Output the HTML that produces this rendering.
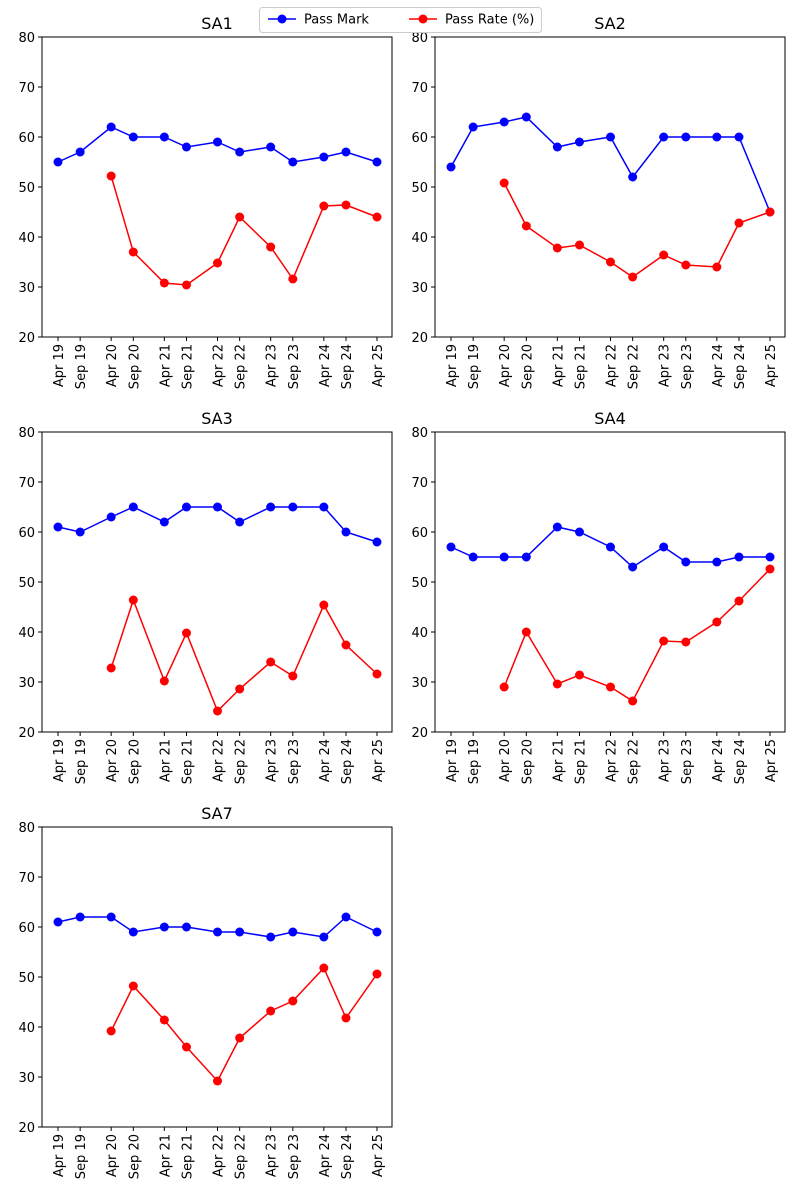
<!DOCTYPE html>
<html><head><meta charset="utf-8">
<style>
body{margin:0;background:#fff;}
svg{display:block;font-family:"DejaVu Sans","Liberation Sans",sans-serif;}
</style></head>
<body>
<svg id="chart" width="800" height="1200" viewBox="0 0 800 1200"></svg>
<script>
const categories = ["Apr 19","Sep 19","Apr 20","Sep 20","Apr 21","Sep 21","Apr 22","Sep 22","Apr 23","Sep 23","Apr 24","Sep 24","Apr 25"];
const monthOffsets = [0,5,12,17,24,29,36,41,48,53,60,65,72];
const yTicks = [20,30,40,50,60,70,80];
const panelTitles = ["SA1","SA2","SA3","SA4","SA7"];
const passMarkSA1 = [55,57,62,60,60,58,59,57,58,55,56,57,55];
const passRateSA1 = [null,null,52.2,37,30.8,30.4,34.8,44,38,31.6,46.2,46.4,44];
const passMarkSA2 = [54,62,63,64,58,59,60,52,60,60,60,60,45];
const passRateSA2 = [null,null,50.8,42.2,37.8,38.4,35,32,36.4,34.4,34,42.8,45];
const passMarkSA3 = [61,60,63,65,62,65,65,62,65,65,65,60,58];
const passRateSA3 = [null,null,32.8,46.4,30.2,39.8,24.2,28.6,34,31.2,45.4,37.4,31.6];
const passMarkSA4 = [57,55,55,55,61,60,57,53,57,54,54,55,55];
const passRateSA4 = [null,null,29,40,29.6,31.4,29,26.2,38.2,38,42,46.2,52.6];
const passMarkSA7 = [61,62,62,59,60,60,59,59,58,59,58,62,59];
const passRateSA7 = [null,null,39.2,48.2,41.4,36,29.2,37.8,43.2,45.2,51.8,41.8,50.6];

const marks=[passMarkSA1,passMarkSA2,passMarkSA3,passMarkSA4,passMarkSA7];
const rates=[passRateSA1,passRateSA2,passRateSA3,passRateSA4,passRateSA7];
const origins=[[42,37],[435,37],[42,432],[435,432],[42,827]];
const W=350,H=300;
const NS="http://www.w3.org/2000/svg";
const svg=document.getElementById('chart');
function mk(tag,attrs,parent){const e=document.createElementNS(NS,tag);for(const k in attrs)e.setAttribute(k,attrs[k]);(parent||svg).appendChild(e);return e;}

for(let p=0;p<5;p++){
  const [ox,oy]=origins[p];
  const xs=m=>ox+16+m*319/72;
  const ys=v=>oy+H-(v-20)*H/60;
  const g=mk('g',{});
  
  
  const t=mk('text',{x:ox+W/2,y:oy-8,'text-anchor':'middle','font-size':16,fill:'#000'},g);
  t.textContent=panelTitles[p];
  
  
  yTicks.forEach(v=>{
    const y=ys(v);
    mk('line',{x1:ox-4,x2:ox,y1:y,y2:y,stroke:'#000','stroke-width':1},g);
    const tt=mk('text',{x:ox-7,y:y+5,'text-anchor':'end','font-size':13,fill:'#000'},g);
    tt.textContent=v;
    
    
  });
  categories.forEach((c,i)=>{
    const x=xs(monthOffsets[i]);
    mk('line',{x1:x,x2:x,y1:oy+H,y2:oy+H+4,stroke:'#000','stroke-width':1},g);
    const tt=mk('text',{x:0,y:0,'text-anchor':'end','font-size':13,fill:'#000',transform:`translate(${x+5},${oy+H+7}) rotate(-90)`},g);
    tt.textContent=c;
    
    
  });
  const series=[[marks[p],'#0000ff','pass-mark'],[rates[p],'#ff0000','pass-rate']];
  series.forEach(([vals,col,nm])=>{
    const pts=[];
    vals.forEach((v,i)=>{if(v!=null)pts.push([xs(monthOffsets[i]),ys(v)]);});
    const pl=mk('polyline',{points:pts.map(q=>q.join(',')).join(' '),fill:'none',stroke:col,'stroke-width':1.5},g);
    
    
    pts.forEach(q=>{
      const c=mk('circle',{cx:q[0],cy:q[1],r:4.5,fill:col},g);
      
      
    });
  });
  const fr=mk('rect',{x:ox,y:oy,width:W,height:H,fill:'none',stroke:'#000','stroke-width':1},g);
  
  
}
// legend
const lg=mk('g',{});


mk('rect',{x:259.5,y:7.5,width:282,height:25,rx:3,fill:'#fff',stroke:'#ccc'},lg);
[[268,'#0000ff','Pass Mark'],[409,'#ff0000','Pass Rate (%)']].forEach(([x,col,label])=>{
  const e=mk('g',{},lg);
  
  
  mk('line',{x1:x,x2:x+28,y1:19,y2:19,stroke:col,'stroke-width':1.5},e);
  mk('circle',{cx:x+14,cy:19,r:4.5,fill:col},e);
  const t=mk('text',{x:x+36,y:23.5,'font-size':13,fill:'#000'},e);
  t.textContent=label;
});
</script>
</body></html>
